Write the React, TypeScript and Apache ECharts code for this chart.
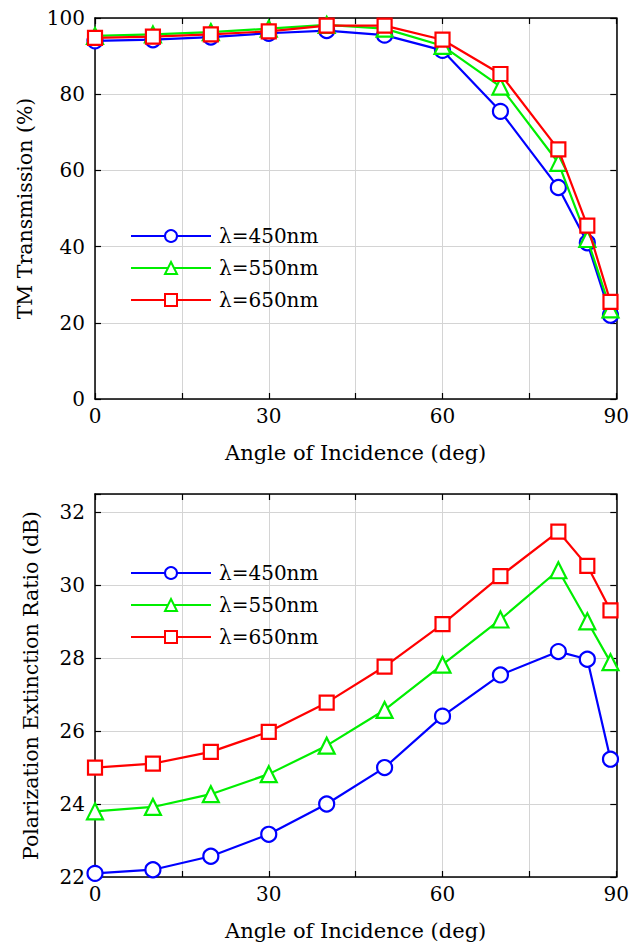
import React, { useEffect, useRef } from "react";
import * as echarts from "echarts";

const angles = [0, 10, 20, 30, 40, 50, 60, 70, 80, 85, 89];
const seriesNames = ["λ=450nm", "λ=550nm", "λ=650nm"];
const colors = ["#0000ff", "#00ee00", "#ff0000"];
const symbols = ["circle", "triangle", "rect"];

const tm450 = [94.0, 94.3, 95.0, 96.0, 96.7, 95.5, 91.5, 75.5, 55.5, 41, 22];
const tm550 = [95.3, 95.7, 96.3, 97.2, 98.2, 97.2, 92.7, 82, 62, 42, 23.5];
const tm650 = [94.8, 95.1, 95.7, 96.5, 98.0, 98.0, 94.3, 85.3, 65.5, 45.5, 25.5];

const per450 = [22.1, 22.2, 22.57, 23.17, 24.0, 25.0, 26.41, 27.54, 28.18, 27.97, 25.23];
const per550 = [23.8, 23.92, 24.27, 24.82, 25.6, 26.58, 27.82, 29.06, 30.41, 29.01, 27.89];
const per650 = [25.0, 25.11, 25.43, 25.98, 26.78, 27.77, 28.93, 30.25, 31.47, 30.53, 29.31];

const xTickLabels = ["0", "30", "60", "90"];

const FONT = "'DejaVu Serif', serif";

export default function App() {
  const ref = useRef<HTMLDivElement>(null);
  useEffect(() => {
    document.body.style.margin = "0";
    const chart = echarts.init(ref.current!, null, { renderer: "svg" });
    const topData = [tm450, tm550, tm650];
    const botData = [per450, per550, per650];

    const axisLineStyle = { color: "#000", width: 1.5 };
    const gridLineStyle = { color: "#d4d4d4", width: 1 };

    const mkX = (gridIndex: number, main: boolean) => ({
      type: "value",
      gridIndex,
      min: 0,
      max: 90,
      interval: 15,
      position: main ? "bottom" : "top",
      axisLine: { show: true, onZero: false, lineStyle: axisLineStyle },
      axisTick: { show: true, inside: true, length: 6, lineStyle: { color: "#000", width: 1.2 } },
      splitLine: { show: main, lineStyle: gridLineStyle },
      axisLabel: main
        ? {
            show: true,
            color: "#000",
            fontFamily: FONT,
            fontSize: 20,
            margin: 7,
            formatter: (v: number) => (v % 30 === 0 ? xTickLabels[v / 30] : ""),
          }
        : { show: false },
      name: main ? "Angle of Incidence (deg)" : "",
      nameLocation: "middle",
      nameGap: 43,
      nameTextStyle: { color: "#000", fontFamily: FONT, fontSize: 21 },
    });

    const mkY = (gridIndex: number, main: boolean, min: number, max: number, interval: number, name: string) => ({
      type: "value",
      gridIndex,
      min,
      max,
      interval,
      position: main ? "left" : "right",
      axisLine: { show: true, onZero: false, lineStyle: axisLineStyle },
      axisTick: { show: true, inside: true, length: 6, lineStyle: { color: "#000", width: 1.2 } },
      splitLine: { show: main, lineStyle: gridLineStyle },
      axisLabel: main
        ? {
            show: true,
            color: "#000",
            fontFamily: FONT,
            fontSize: 20,
            margin: 10,
            showMaxLabel: true,
            formatter: (v: number) => (v % interval === 0 ? String(v) : ""),
          }
        : { show: false },
      name: main ? name : "",
      nameLocation: "middle",
      nameGap: 54,
      nameRotate: 90,
      nameTextStyle: { color: "#000", fontFamily: FONT, fontSize: 20.5 },
    });

    const series: any[] = [];
    [topData, botData].forEach((group, gi) => {
      group.forEach((vals, i) => {
        series.push({
          type: "line",
          name: seriesNames[i],
          xAxisIndex: gi * 2,
          yAxisIndex: gi * 2,
          data: angles.map((a, k) => [a, vals[k]]),
          symbol: symbols[i],
          symbolSize: i === 0 ? 15 : i === 1 ? 16 : 14,
          showAllSymbol: true,
          lineStyle: { color: colors[i], width: 2.2 },
          itemStyle: { color: "#fff", borderColor: colors[i], borderWidth: 2.2 },
          z: 2 + i,
        });
      });
    });

    const legendBase = {
      orient: "vertical",
      itemWidth: 80,
      itemHeight: 15,
      itemGap: 12,
      textStyle: { color: "#000", fontFamily: FONT, fontSize: 20, padding: [0, 0, 0, 3] },
      data: seriesNames,
      selectedMode: false,
    };

    chart.setOption({
      animation: false,
      backgroundColor: "#fff",
      grid: [
        { left: 95, right: 15, top: 18, height: 381 },
        { left: 95, right: 15, top: 494, height: 383 },
      ],
      xAxis: [mkX(0, true), mkX(0, false), mkX(1, true), mkX(1, false)],
      yAxis: [
        mkY(0, true, 0, 100, 20, "TM Transmission (%)"),
        mkY(0, false, 0, 100, 20, ""),
        mkY(1, true, 22, 32.5, 2, "Polarization Extinction Ratio (dB)"),
        mkY(1, false, 22, 32.5, 2, ""),
      ],
      legend: [
        { ...legendBase, left: 125, top: 221 },
        { ...legendBase, left: 125, top: 558 },
      ],
      series,
    });
    return () => chart.dispose();
  }, []);
  return <div ref={ref} style={{ width: 632, height: 946 }} />;
}
